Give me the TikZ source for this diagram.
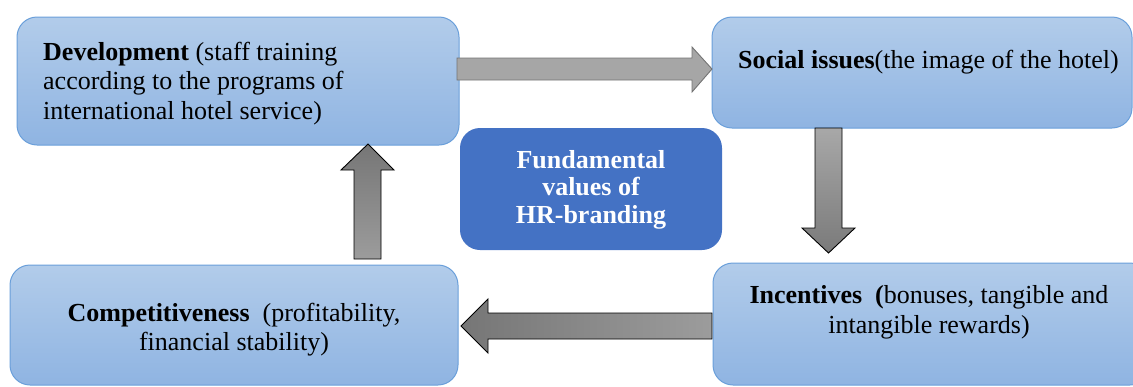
\documentclass[tikz,border=0pt]{standalone}
\usepackage{fontspec}
\setmainfont{Liberation Serif}
\usetikzlibrary{shadings}
\definecolor{boxtop}{HTML}{B2CCEA}
\definecolor{boxbot}{HTML}{8FB4E2}
\definecolor{boxline}{HTML}{6A9FDA}
\definecolor{centerblue}{HTML}{4472C4}
\tikzset{
  valbox/.style={draw=boxline, line width=1pt, rounded corners=20pt, top color=boxtop, bottom color=boxbot},
  corebox/.style={fill=centerblue, rounded corners=20pt},
  txt/.style={inner sep=0pt, font=\fontsize{26}{29.5}\selectfont},
  blockarrow/.style={draw=black, line width=0.9pt, line join=miter},
}
\begin{document}
\begin{tikzpicture}[x=1pt,y=-1pt]
\useasboundingbox (0,0) rectangle (1133,386);
% boxes
\path[valbox] (17,17) rectangle (459,145);
\node[inner sep=0pt, minimum size=0pt] (dev) at (238,81) {};
\path[valbox] (712,17) rectangle (1132,128);
\node[inner sep=0pt, minimum size=0pt] (soc) at (922,72) {};
\path[corebox] (460,128) rectangle (722,250);
\node[inner sep=0pt, minimum size=0pt] (core) at (591,189) {};
\path[valbox] (10,265) rectangle (458,385);
\node[inner sep=0pt, minimum size=0pt] (comp) at (234,325) {};
\path[valbox] (713,263) rectangle (1150,385);
\node[inner sep=0pt, minimum size=0pt] (inc) at (931,324) {};
% texts (base anchor = baseline of last line)
\node[txt, anchor=base west, align=left] (devtext) at (43,119)
  {\textbf{Development} (staff training\\according to the programs of\\international hotel service)};
\node[txt, anchor=base west] (soctext) at (738,68)
  {\textbf{Social issues}(the image of the hotel)};
\node[txt, anchor=base, align=center, text=white, font=\fontsize{26}{27.5}\selectfont\bfseries] (coretext) at (591,223)
  {Fundamental\\values of\\HR-branding};
\node[txt, anchor=base, align=center, font=\fontsize{26}{28.5}\selectfont] (comptext) at (234,350)
  {\textbf{Competitiveness}\ \ (profitability,\\financial stability)};
\node[txt, anchor=base, align=center] (inctext) at (929,333)
  {\textbf{Incentives}\ \ \textbf{(}bonuses, tangible and\\intangible rewards)};
% arrows
\path[blockarrow, draw=gray!90!black, fill={rgb,255:red,166;green,166;blue,166}]
  (457,58) -- (692,58) -- (692,47) -- (712,69) -- (692,92) -- (692,80) -- (457,80) -- cycle;
\path[blockarrow, top color={rgb,255:red,168;green,168;blue,168}, bottom color={rgb,255:red,122;green,122;blue,122}]
  (815,128) -- (842,128) -- (842,228) -- (855,228) -- (828.5,253) -- (802,228) -- (815,228) -- cycle;
\path[blockarrow, top color={rgb,255:red,118;green,118;blue,118}, bottom color={rgb,255:red,156;green,156;blue,156}]
  (354,259) -- (354,170) -- (341,170) -- (368,144) -- (394,170) -- (381,170) -- (381,259) -- cycle;
\path[blockarrow, left color={rgb,255:red,118;green,118;blue,118}, right color={rgb,255:red,156;green,156;blue,156}]
  (712,313) -- (488,313) -- (488,299) -- (461,326) -- (488,353) -- (488,339) -- (712,339) -- cycle;
\end{tikzpicture}
\end{document}
